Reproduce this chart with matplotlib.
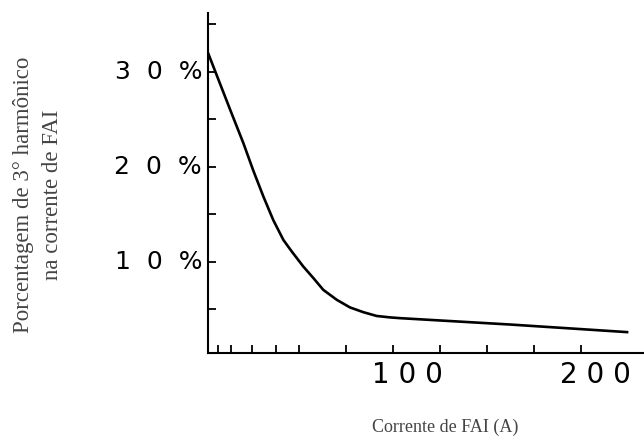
import numpy as np
import matplotlib.pyplot as plt
from matplotlib.transforms import offset_copy

# curve: current (A) vs 3rd harmonic (%)
corrente = [1.6, 14.2, 20.4, 25.7, 31.0, 36.3, 41.7, 46.1, 52.3, 57.6, 62.9, 70.1,
            77.1, 84.2, 91.3, 98.4, 103.7, 162.2, 224.5]
harmonico = [32.0, 25.6, 22.5, 19.6, 16.9, 14.4, 12.3, 11.1, 9.5, 8.3, 7.05, 6.0,
             5.2, 4.7, 4.3, 4.15, 4.07, 3.4, 2.6]

xticks = [7, 14, 25, 38, 50, 75, 100, 125, 150, 175, 200]
yticks = [5, 10, 15, 20, 25, 30, 35]
xlabels = {100: '1 0 0', 200: '2 0 0'}
ylabels = {10: '1  0  %', 20: '2  0  %', 30: '3  0  %'}


def main():
    fig = plt.figure(figsize=(6.44, 4.46), dpi=100)
    ax = fig.add_axes([0.323, 0.2085, 0.677, 0.7624])

    ax.plot(corrente, harmonico, color='black', lw=1.9, solid_joinstyle='round')

    ax.set_xlim(1.6, 233.5)
    ax.set_ylim(0.4, 36.2)
    ax.spines['top'].set_visible(False)
    ax.spines['right'].set_visible(False)
    for s in ['left', 'bottom']:
        ax.spines[s].set_linewidth(1.5)

    ax.set_xticks(xticks)
    ax.set_yticks(yticks)
    ax.tick_params(direction='in', length=5.5, width=1.3, labelbottom=False, labelleft=False)

    tr = offset_copy(ax.get_xaxis_transform(), fig=fig, x=14, y=-22, units='dots')
    for v, lab in xlabels.items():
        ax.text(v, 0, lab, transform=tr, ha='center', va='center',
                family='DejaVu Sans', fontsize=20)
    tr = offset_copy(ax.get_yaxis_transform(), fig=fig, x=-6, y=0, units='dots')
    for v, lab in ylabels.items():
        ax.text(0, v, lab, transform=tr, ha='right', va='center',
                family='DejaVu Sans', fontsize=18)

    fig.text(0.059, 0.563, 'Porcentagem de 3° harmônico\nna corrente de FAI',
             rotation=90, ha='center', va='center', family='Liberation Serif',
             fontsize=16.5, color='#444444', linespacing=1.45)
    fig.text(0.692, 0.042, 'Corrente de FAI (A)', ha='center', va='center',
             family='Liberation Serif', fontsize=13, color='#444444')

    plt.savefig('out.png', dpi=100)


if __name__ == '__main__':
    main()
